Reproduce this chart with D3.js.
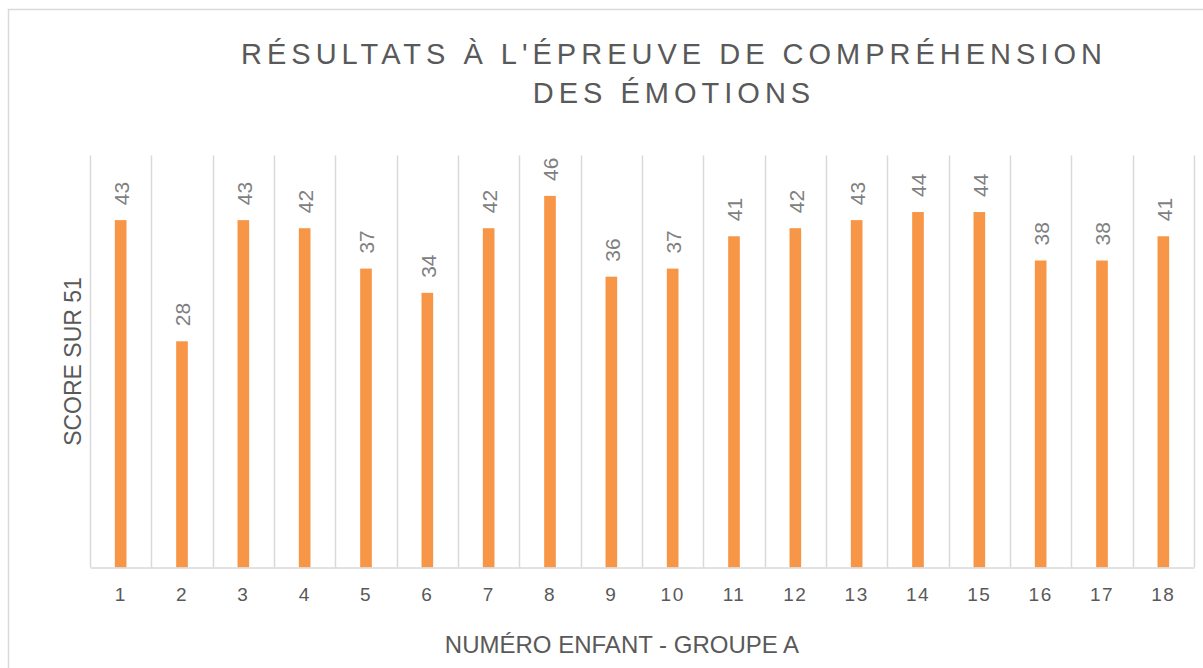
<!DOCTYPE html>
<html>
<head>
<meta charset="utf-8">
<script src="https://cdnjs.cloudflare.com/ajax/libs/d3/7.8.5/d3.min.js"></script>
<style>
  body { margin: 0; background: #fff; }
  text { font-family: "Liberation Sans", Arial, sans-serif; }
</style>
</head>
<body>
<div id="chart"></div>
<script>
// data
var enfants = ["1","2","3","4","5","6","7","8","9","10","11","12","13","14","15","16","17","18"];
var scores = [43, 28, 43, 42, 37, 34, 42, 46, 36, 37, 41, 42, 43, 44, 44, 38, 38, 41];
var titleLines = ["RÉSULTATS À L'ÉPREUVE DE COMPRÉHENSION", "DES ÉMOTIONS"];
var xTitle = "NUMÉRO ENFANT - GROUPE A";
var yTitle = "SCORE SUR 51";

var svg = d3.select("#chart").append("svg")
    .attr("width", 1203)
    .attr("height", 668);

// chart frame
svg.append("rect")
    .attr("x", 8.5).attr("y", 9.5)
    .attr("width", 1200).attr("height", 700)
    .attr("fill", "#fff")
    .attr("stroke", "#d9d9d9")
    .attr("stroke-width", 1.5);

var plotL = 90, plotR = 1194, plotT = 155.5, plotB = 567.5;

var x = d3.scaleBand()
    .domain(enfants)
    .range([plotL, plotR])
    .padding(0);

var y = d3.scaleLinear()
    .domain([0, 51])
    .range([plotB, plotT]);

// vertical gridlines at category boundaries
var bounds = enfants.map(function(d) { return x(d); }).concat([plotR]);
svg.append("g").selectAll("line")
    .data(bounds)
    .join("line")
    .attr("x1", function(d) { return Math.round(d) + 0.5; })
    .attr("x2", function(d) { return Math.round(d) + 0.5; })
    .attr("y1", plotT)
    .attr("y2", plotB)
    .attr("stroke", "#d9d9d9")
    .attr("stroke-width", 1.5);

// bars
var barW = x.bandwidth() * 0.19;
svg.append("g").selectAll("rect")
    .data(scores)
    .join("rect")
    .attr("x", function(d, i) { return x(enfants[i]) + x.bandwidth() / 2 - barW / 2; })
    .attr("y", function(d) { return y(d); })
    .attr("width", barW)
    .attr("height", function(d) { return y(0) - y(d); })
    .attr("fill", "#f79646");

// data labels, rotated
svg.append("g").selectAll("text")
    .data(scores)
    .join("text")
    .attr("transform", function(d, i) {
        return "translate(" + (x(enfants[i]) + x.bandwidth() / 2 + 1) + "," + (y(d) - 15) + ") rotate(-90)";
    })
    .attr("dy", "0.35em")
    .attr("text-anchor", "start")
    .attr("fill", "#7f7f7f")
    .style("font-size", "21px")
    .text(function(d) { return d; });

// x axis
var xAxis = svg.append("g")
    .attr("transform", "translate(0," + plotB + ")")
    .call(d3.axisBottom(x).tickSize(0).tickPadding(20));
xAxis.select(".domain").attr("stroke", "#d9d9d9").attr("stroke-width", 1.5);
xAxis.selectAll("text")
    .attr("fill", "#595959")
    .style("font-size", "19px")
    .style("letter-spacing", "1.5px")
    .style("font-family", "'Liberation Sans', Arial, sans-serif");

// title
svg.append("g").selectAll("text")
    .data(titleLines)
    .join("text")
    .attr("x", 674)
    .attr("y", function(d, i) { return 64 + i * 39; })
    .attr("text-anchor", "middle")
    .attr("fill", "#595959")
    .style("font-size", "29px")
    .style("letter-spacing", "5px")
    .text(function(d) { return d; });

// axis titles
svg.append("text")
    .attr("x", 622)
    .attr("y", 653)
    .attr("text-anchor", "middle")
    .attr("fill", "#595959")
    .style("font-size", "24px")
    .text(xTitle);

svg.append("text")
    .attr("transform", "translate(81," + ((plotT + plotB) / 2) + ") rotate(-90)")
    .attr("text-anchor", "middle")
    .attr("fill", "#595959")
    .style("font-size", "23px")
    .text(yTitle);
</script>
</body>
</html>
